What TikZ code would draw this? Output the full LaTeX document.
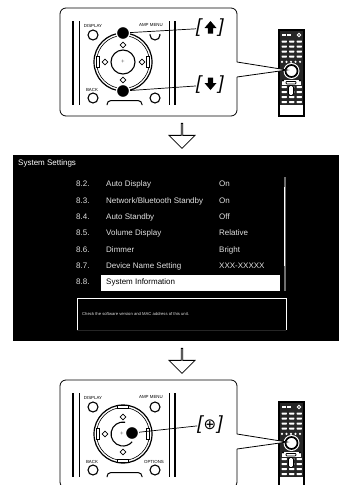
\documentclass[tikz,border=0pt]{standalone}
\usepackage{fontspec}
\setmainfont{Liberation Sans}
\newfontfamily\symbfont{DejaVu Sans}
\usepackage{tikz}
\usetikzlibrary{shapes.geometric, shapes.arrows, arrows.meta, positioning, calc}
\definecolor{screenbar}{RGB}{110,110,110}
\definecolor{screentext}{RGB}{225,225,225}

% remote control on the right of a panel
\newcommand{\remotectl}{%
  \draw[line width=1.4pt, fill=white] (279,30) rectangle (304,116);
  \fill[black!85] (280,31) rectangle (303,105);
  \foreach \yy in {41.5,46.5,51.5,56.5,87,92,97,102}
    \foreach \xx in {281.5,289,296.5}
      \fill[white, rounded corners=0.6] (\xx,\yy-1) rectangle +(5.4,2);
  \foreach \xx in {281.5,286.5}
    \fill[white] (\xx,34) rectangle +(4,2);
  \draw[white, line width=0.8pt] (299,35) circle (1.8);
  \foreach \xx in {282,286.5,291,295.5,300}
    \fill[white] (\xx,61.8) circle (1.2);
  \fill[white] (291.5,71) circle (8);
  \draw[line width=1.7pt] (291.5,71) circle (6);
  \fill[white] (282,80) rectangle +(19,4.5);
  \draw[line width=0.8pt, rounded corners=0.8] (286,81.5) rectangle +(10,2.4);
  \fill[black] (283,80.5) circle (1.1);
  \fill[black] (300,80.5) circle (1.1);
  \draw[line width=0.8pt, fill=white, rounded corners=1.5] (288.5,85.5) rectangle +(5,10);
}

% things every panel has in common
\newcommand{\panelbase}{%
  \draw[panelline, rounded corners=6] (237,62) -- (237,8) -- (60,8) -- (60,116) -- (237,116) -- (237,77);
  \remotectl
  \coordinate (wedgetip) at (287,70);
  \draw[panelline, fill=white] (237,62) -- (wedgetip) -- (237,77);
  \draw[line width=1.3pt] (73,21) -- (73,105);
  \draw[line width=0.9pt] (79,21) -- (79,105);
  \draw[line width=0.9pt] (169,21) -- (169,105);
  \draw[line width=1.3pt] (175,21) -- (175,105);
  \node[keytext] (keydisplay) at (93,26) {DISPLAY};
  \node[keytext] (keyamp) at (151,25.5) {AMP MENU};
  \node[keytext] (keyback) at (92,90) {BACK};
  \node[roundkey] (btndisplay) at (93,35) {};
  \node[roundkey] (btnamp) at (155,35) {};
  \node[roundkey] (btnback) at (93,98) {};
  \node[roundkey] (btnoption) at (155,98) {};
  \draw[line width=1pt, rounded corners=4] (107,105) -- (107,100.5) -- (142,100.5) -- (142,105);
  \draw[line width=1.2pt] (123,62) circle (29);
  \draw[line width=0.6pt] (123,62) circle (26.5);
  \node[ringtab, minimum width=3pt, minimum height=11pt] (tableft) at (98,62) {};
  \node[ringtab, minimum width=3pt, minimum height=11pt] (tabright) at (148,62) {};
  \node[ringtab, minimum width=11pt, minimum height=3pt] (tabup) at (123,35) {};
  \node[ringtab, minimum width=11pt, minimum height=3pt] (tabdown) at (123,89) {};
  \node[markkey] (markup) at (123,45) {};
  \node[markkey] (markleft) at (105,62) {};
  \node[markkey] (markdown) at (123,80) {};
}

\begin{document}
\begin{tikzpicture}[
    x=1pt, y=-1pt,
    panelline/.style={line width=0.8pt},
    keytext/.style={inner sep=0, font=\fontsize{4.4}{5}\selectfont},
    roundkey/.style={circle, draw, line width=1.1pt, fill=white, minimum size=10pt, inner sep=0},
    ringtab/.style={rectangle, draw, line width=0.6pt, fill=white, inner sep=0},
    markkey/.style={diamond, draw, line width=0.7pt, minimum size=6pt, inner sep=0},
    pressdot/.style={circle, fill=black, draw=white, line width=1.2pt, minimum size=13pt, inner sep=0},
    leader/.style={line width=0.7pt},
    haloleader/.style={white, line width=6pt},
    callkey/.style={inner sep=0, font=\fontsize{19}{20}\selectfont\itshape},
    flowarrow/.style={single arrow, draw, line width=0.8pt, fill=white, rotate=-90, minimum height=25pt, minimum width=26pt, single arrow head extend=7pt, inner sep=0},
    rownum/.style={anchor=base west, inner sep=0, yshift=-2.8pt, text=screentext, font=\fontsize{8}{9}\selectfont},
    rowname/.style={rownum},
    rowvalue/.style={rownum}
]
\path[use as bounding box, fill=white] (0,0) rectangle (339,485);

% first panel
\begin{scope}
\panelbase
\node[markkey] (markright) at (142,62) {};
\node[circle, draw, line width=1.1pt, minimum size=24pt, inner sep=0] (btnenter) at (123,62) {};
\node[font=\fontsize{6}{6}\selectfont, inner sep=0, text=black!60] (plusenter) at (123,62) {+};
\node[callkey] (labelup) at (210,28) {[\hspace{17pt}]};
\fill (210.5,21) -- (216.5,28) -- (213.2,28) -- (213.2,33.5) -- (207.8,33.5) -- (207.8,28) -- (204.5,28) -- cycle;
\node[callkey] (labeldown) at (210,85) {[\hspace{17pt}]};
\fill (210.5,90) -- (216.5,83) -- (213.2,83) -- (213.2,77.5) -- (207.8,77.5) -- (207.8,83) -- (204.5,83) -- cycle;
\node[pressdot] (dotup) at (123,33) {};
\node[pressdot] (dotdown) at (123,91) {};
\draw[haloleader] (160,31) -- (150,31.5);
\draw[leader] (dotup) -- (labelup);
\draw[leader] (dotdown) -- (labeldown);
\end{scope}

\node[flowarrow] (flowone) at (182,135.5) {};

% screen
\fill[black] (13,155) rectangle (339,341);
\node[rownum, text=white] (title) at (18,163) {System Settings};
\node[rownum] (num2) at (76,184) {8.2.};
\node[rowname] (name2) at (106,184) {Auto Display};
\node[rowvalue] (value2) at (219,184) {On};
\node[rownum] (num3) at (76,200.5) {8.3.};
\node[rowname] (name3) at (106,200.5) {Network/Bluetooth Standby};
\node[rowvalue] (value3) at (219,200.5) {On};
\node[rownum] (num4) at (76,217) {8.4.};
\node[rowname] (name4) at (106,217) {Auto Standby};
\node[rowvalue] (value4) at (219,217) {Off};
\node[rownum] (num5) at (76,233) {8.5.};
\node[rowname] (name5) at (106,233) {Volume Display};
\node[rowvalue] (value5) at (219,233) {Relative};
\node[rownum] (num6) at (76,249.5) {8.6.};
\node[rowname] (name6) at (106,249.5) {Dimmer};
\node[rowvalue] (value6) at (219,249.5) {Bright};
\node[rownum] (num7) at (76,266) {8.7.};
\node[rowname] (name7) at (106,266) {Device Name Setting};
\node[rowvalue] (value7) at (219,266) {XXX-XXXXX};
\fill[white] (101,275) rectangle (280,291);
\node[rownum] (num8) at (76,282) {8.8.};
\node[rowname, text=black] (name8) at (106,282) {System Information};
\draw[screenbar, line width=2pt] (284.5,177) -- (284.5,291);
\draw[white, line width=1pt] (284.5,187) -- (284.5,266);
\draw[white, line width=0.8pt] (77,330) -- (77,298) -- (286,298) -- (286,330);
\draw[screenbar!150, line width=1pt] (77,330) -- (286,330);
\node[rownum, yshift=1.3pt, font=\fontsize{4.2}{5}\selectfont] (helptext) at (82,314) {Check the software version and MAC address of this unit.};

\node[flowarrow] (flowtwo) at (182,360.5) {};

% last panel
\begin{scope}[yshift=-372pt]
\panelbase
\node[keytext] (keyoption) at (154,89.5) {OPTIONS};
\node[font=\fontsize{6}{6}\selectfont, inner sep=0, text=black!60] (plusenter) at (122,62) {+};
\draw[line width=1.1pt] (125.1,50.2) arc (-80:-320:12);
\node[font=\fontsize{6}{6}\selectfont, inner sep=0] (checkenter) at (138,64) {\symbfont ✓};
\node[callkey] (labelenter) at (210,52.5) {[{\symbfont\upshape\fontsize{15}{15}\selectfont\hspace{1pt}⊕\hspace{1pt}}]};
\node[pressdot] (dotenter) at (132,61) {};
\draw[leader] (dotenter) -- (labelenter);
\end{scope}
\end{tikzpicture}
\end{document}
